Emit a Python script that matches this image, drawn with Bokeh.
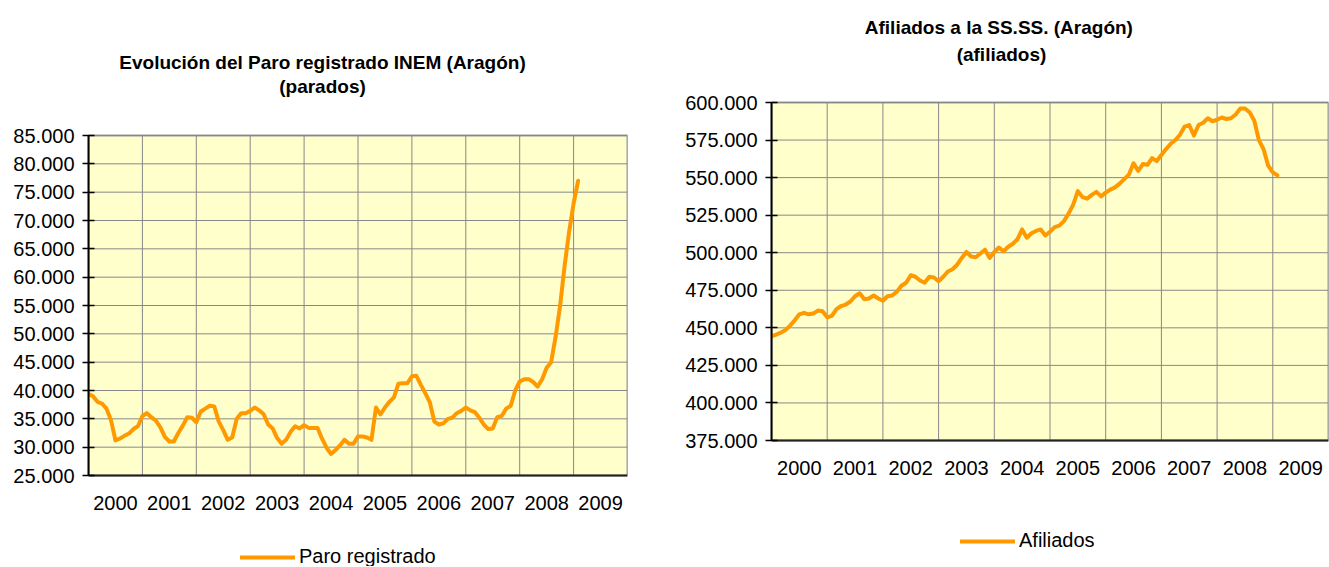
from bokeh.plotting import figure
from bokeh.layouts import row
from bokeh.models import FixedTicker, Legend, LegendItem, Label
from bokeh.embed import file_html
from bokeh.resources import INLINE

# ---------------- data ----------------
years = ["2000", "2001", "2002", "2003", "2004", "2005", "2006", "2007", "2008", "2009"]
year_centers = [6, 18, 30, 42, 54, 66, 78, 90, 102, 114]
year_bounds = [0, 12, 24, 36, 48, 60, 72, 84, 96, 108, 120]

# Paro registrado (Aragón), monthly from Jan 2000
paro = [39400, 39000, 38000, 37700, 36800, 34800, 31200, 31500, 32000, 32400, 33200, 33700,
        35500, 36000, 35300, 34700, 33500, 31800, 31000, 31000, 32500, 33800, 35300, 35200,
        34400, 36300, 36800, 37300, 37200, 34500, 33000, 31300, 31700, 35000, 36000, 36000,
        36400, 37000, 36500, 35800, 34000, 33300, 31600, 30600, 31300, 32700, 33700, 33300,
        33900, 33400, 33400, 33400, 31500, 29900, 28800, 29500, 30300, 31300, 30600, 30600,
        31900, 31900, 31700, 31300, 37000, 35800, 37000, 38000, 38800, 41200, 41300, 41300,
        42500, 42600, 41000, 39500, 37900, 34500, 34000, 34200, 35000, 35200, 36000, 36400,
        37000, 36500, 36200, 35200, 34000, 33200, 33300, 35300, 35500, 36800, 37300, 40000,
        41600, 42000, 42000, 41500, 40700, 42000, 44000, 45000, 49500, 55000, 62000, 68000,
        73000, 77000]

# Afiliados a la Seguridad Social (Aragón), monthly from Jan 2000
afiliados = [444300, 445500, 446800, 448500, 451500, 455000, 459000, 460000, 459000, 459500, 461500, 461000,
             457000, 458000, 462500, 464500, 465500, 467500, 471000, 473000, 469000, 469500, 471500, 469500,
             468000, 471000, 471500, 474000, 478000, 480000, 485000, 484000, 481500, 480000, 484000, 483500,
             481000, 484000, 487500, 489000, 492000, 496500, 500500, 497500, 497000, 499500, 502000, 496500,
             500500, 503500, 501000, 504000, 506000, 509000, 515500, 510000, 513000, 514500, 515500, 511500,
             514000, 517000, 518000, 521000, 526000, 532000, 541000, 537000, 536000, 538500, 540500, 537500,
             540000, 542000, 543500, 546000, 549000, 552000, 559500, 554500, 559000, 558500, 563000, 561000,
             565000, 569000, 572500, 575000, 578500, 584000, 585000, 578000, 585000, 586500, 589500, 587500,
             588500, 590000, 589000, 589500, 592000, 596000, 596000, 593500, 588000, 575000, 569000, 558000,
             553500, 551500]

paro_ticks = [25000, 30000, 35000, 40000, 45000, 50000, 55000, 60000, 65000, 70000, 75000, 80000, 85000]
paro_tick_labels = ["25.000", "30.000", "35.000", "40.000", "45.000", "50.000", "55.000", "60.000",
                    "65.000", "70.000", "75.000", "80.000", "85.000"]
afil_ticks = [375000, 400000, 425000, 450000, 475000, 500000, 525000, 550000, 575000, 600000]
afil_tick_labels = ["375.000", "400.000", "425.000", "450.000", "475.000", "500.000", "525.000",
                    "550.000", "575.000", "600.000"]

FONT = "Liberation Sans"
LINE_COLOR = "#FF9900"
GRID_COLOR = "#888888"
LABEL_SIZE = "20px"
H = 566


def make_chart(values, ticks, tick_labels, width, box, titles, legend_label, legend_pos):
    """box = (left, right, top, bottom) of the plot area in canvas pixels."""
    left, right, top, bottom = box
    ymin, ymax = ticks[0], ticks[-1]
    xmin, xmax = year_bounds[0], year_bounds[-1]
    k = (ymax - ymin) / (bottom - top)              # value per pixel
    y_start = ymin - (H - bottom) * k
    y_end = ymax + top * k

    def px_x(px):
        return xmin + (px - left) * (xmax - xmin) / (right - left)

    def px_y(py):
        return ymax - (py - top) * k

    p = figure(width=width, height=H, output_backend="svg", toolbar_location=None,
               x_range=(xmin, xmax), y_range=(y_start, y_end),
               min_border_left=left, min_border_right=width - right,
               min_border_top=0, min_border_bottom=0)
    p.background_fill_color = "white"
    p.border_fill_color = "white"
    p.outline_line_color = None
    p.xgrid.visible = False
    p.ygrid.visible = False

    # plot area (yellow) with grey frame
    p.quad(left=[xmin], right=[xmax], bottom=[ymin], top=[ymax],
           fill_color="#FFFFCC", line_color="#999999", line_width=2)
    # grid lines
    p.segment(x0=year_bounds, y0=[ymin] * len(year_bounds), x1=year_bounds, y1=[ymax] * len(year_bounds),
              line_color=GRID_COLOR, line_width=1)
    p.segment(x0=[xmin] * len(ticks), y0=ticks, x1=[xmax] * len(ticks), y1=ticks,
              line_color=GRID_COLOR, line_width=1)

    x = list(range(len(values)))
    r = p.line(x, values, line_color=LINE_COLOR, line_width=4, line_join="round", line_cap="round")

    # y axis
    p.yaxis.ticker = FixedTicker(ticks=ticks)
    p.yaxis.bounds = (ymin, ymax)
    p.yaxis.major_label_overrides = {t: l for t, l in zip(ticks, tick_labels)}
    p.yaxis.axis_line_color = "black"
    p.yaxis.axis_line_width = 2
    p.yaxis.major_tick_line_color = "black"
    p.yaxis.major_tick_line_width = 1.5
    p.yaxis.major_tick_in = 6
    p.yaxis.major_tick_out = 6
    p.yaxis.minor_tick_line_color = None
    p.yaxis.major_label_standoff = 8
    p.yaxis.major_label_text_font = FONT
    p.yaxis.major_label_text_font_size = LABEL_SIZE
    p.yaxis.major_label_text_color = "black"

    # x axis (drawn at the bottom of the plot area)
    p.xaxis.fixed_location = ymin
    p.xaxis.bounds = (xmin, xmax)
    p.xaxis.ticker = FixedTicker(ticks=year_centers)
    p.xaxis.major_label_overrides = {c: y for c, y in zip(year_centers, years)}
    p.xaxis.axis_line_color = "#222222"
    p.xaxis.axis_line_width = 2
    p.xaxis.major_tick_line_color = None
    p.xaxis.minor_tick_line_color = None
    p.xaxis.major_label_standoff = 14
    p.xaxis.major_label_text_font = FONT
    p.xaxis.major_label_text_font_size = LABEL_SIZE
    p.xaxis.major_label_text_color = "black"

    # two-line bold title
    for txt, (cx, cy) in titles:
        p.add_layout(Label(x=px_x(cx), y=px_y(cy), text=txt, text_align="center",
                           text_baseline="middle", text_font=FONT, text_font_style="bold",
                           text_font_size="19px", text_color="black"))

    lx, lcy = legend_pos
    leg = Legend(items=[LegendItem(label=legend_label, renderers=[r])],
                 location=(lx - left, H - (lcy + 8)),
                 orientation="horizontal", border_line_color=None, background_fill_alpha=0,
                 padding=0, margin=0, glyph_width=55, glyph_height=16, label_height=16,
                 label_standoff=4, label_text_font=FONT, label_text_font_size=LABEL_SIZE,
                 label_text_color="black")
    p.add_layout(leg)
    return p


p1 = make_chart(paro, paro_ticks, paro_tick_labels, 668, (88, 627, 135, 475),
                [("Evolución del Paro registrado INEM (Aragón)", (322, 61.5)), ("(parados)", (322, 86))],
                "Paro registrado", (240, 560))
p2 = make_chart(afiliados, afil_ticks, afil_tick_labels, 661, (103, 660, 102, 440),
                [("Afiliados a la SS.SS.  (Aragón)", (1001 - 668, 26.5)), ("(afiliados)", (1001 - 668, 54))],
                "Afiliados", (960 - 668, 544))

layout = row(p1, p2)
open("out.html", "w").write(file_html(layout, INLINE))
